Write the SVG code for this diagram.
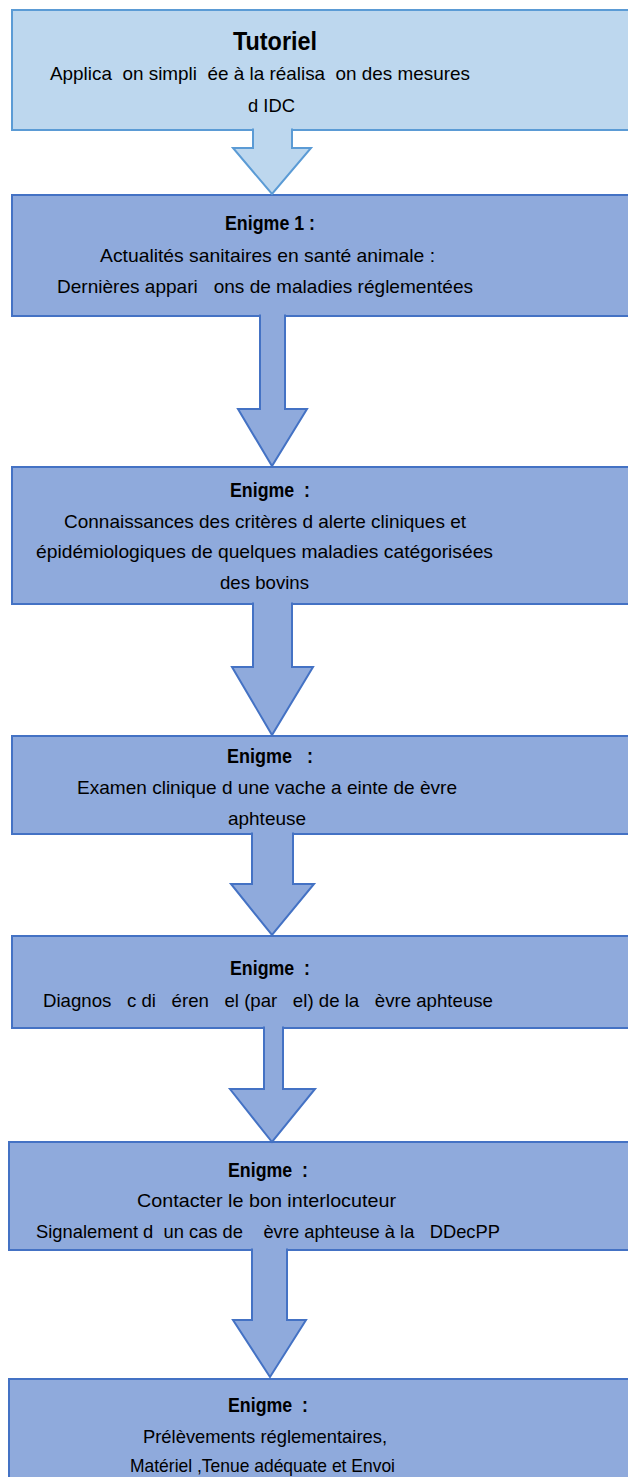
<svg xmlns="http://www.w3.org/2000/svg" width="628" height="1477" viewBox="0 0 628 1477">
<style>
.b1{fill:#BDD7EE;stroke:#5B9BD5;stroke-width:2}
.bx{fill:#8FAADC;stroke:#4472C4;stroke-width:2}
.a1{fill:#BDD7EE;stroke:#5B9BD5;stroke-width:2;stroke-linejoin:miter}
.ax{fill:#8FAADC;stroke:#4472C4;stroke-width:2;stroke-linejoin:miter}
text{font-family:"Liberation Sans",Arial,sans-serif;font-size:19px;fill:#000;white-space:pre}
.t{font-weight:bold;font-size:20px}
</style>
<rect width="628" height="1477" fill="#fff"/>
<g id="node-tutoriel">
<rect class="b1" x="12" y="10" width="630" height="120"/>
<text class="t" x="233" y="50" style="font-size:26px" textLength="84" lengthAdjust="spacingAndGlyphs">Tutoriel</text>
<text x="50" y="80" textLength="420" lengthAdjust="spacingAndGlyphs">Applica  on simpli  ée à la réalisa  on des mesures</text>
<text x="248" y="112" textLength="47" lengthAdjust="spacingAndGlyphs">d IDC</text>
</g>
<g id="node-enigme1">
<rect class="bx" x="12" y="195" width="630" height="121"/>
<text class="t" x="225" y="230" textLength="90" lengthAdjust="spacingAndGlyphs">Enigme 1 :</text>
<text x="100" y="262" textLength="335" lengthAdjust="spacingAndGlyphs">Actualités sanitaires en santé animale :</text>
<text x="57" y="293" textLength="416" lengthAdjust="spacingAndGlyphs">Dernières appari   ons de maladies réglementées</text>
</g>
<g id="node-enigme2">
<rect class="bx" x="12" y="467" width="630" height="137"/>
<text class="t" x="230" y="497" textLength="80" lengthAdjust="spacingAndGlyphs">Enigme  :</text>
<text x="64" y="528" textLength="402" lengthAdjust="spacingAndGlyphs">Connaissances des critères d alerte cliniques et</text>
<text x="36" y="558" textLength="457" lengthAdjust="spacingAndGlyphs">épidémiologiques de quelques maladies catégorisées</text>
<text x="220" y="589" textLength="89" lengthAdjust="spacingAndGlyphs">des bovins</text>
</g>
<g id="node-enigme3">
<rect class="bx" x="12" y="736" width="630" height="98"/>
<text class="t" x="227" y="763" textLength="86" lengthAdjust="spacingAndGlyphs">Enigme   :</text>
<text x="77" y="794" textLength="380" lengthAdjust="spacingAndGlyphs">Examen clinique d une vache a einte de èvre</text>
<text x="228" y="825" textLength="78" lengthAdjust="spacingAndGlyphs">aphteuse</text>
</g>
<g id="node-enigme4">
<rect class="bx" x="12" y="936" width="630" height="92"/>
<text class="t" x="230" y="975" textLength="80" lengthAdjust="spacingAndGlyphs">Enigme  :</text>
<text x="43" y="1007" textLength="450" lengthAdjust="spacingAndGlyphs">Diagnos   c di   éren   el (par   el) de la   èvre aphteuse</text>
</g>
<g id="node-enigme5">
<rect class="bx" x="9" y="1142" width="633" height="108"/>
<text class="t" x="228" y="1177" textLength="80" lengthAdjust="spacingAndGlyphs">Enigme  :</text>
<text x="137" y="1207" textLength="259" lengthAdjust="spacingAndGlyphs">Contacter le bon interlocuteur</text>
<text x="36" y="1238" textLength="464" lengthAdjust="spacingAndGlyphs">Signalement d  un cas de    èvre aphteuse à la   DDecPP</text>
</g>
<g id="node-enigme6">
<rect class="bx" x="9" y="1379" width="633" height="110"/>
<text class="t" x="228" y="1412" textLength="80" lengthAdjust="spacingAndGlyphs">Enigme  :</text>
<text x="143" y="1443" textLength="244" lengthAdjust="spacingAndGlyphs">Prélèvements réglementaires,</text>
<text x="130" y="1472" textLength="265" lengthAdjust="spacingAndGlyphs">Matériel ,Tenue adéquate et Envoi</text>
</g>
<g id="connectors">
<path class="a1" d="M253 128.5 L253 148 L233 148 L272 194 L311 148 L292 148 L292 128.5"/>
<path class="ax" d="M260 314.5 L260 409 L238 409 L272 466 L307 409 L285 409 L285 314.5"/>
<path class="ax" d="M253 602.5 L253 667 L232 667 L272 735 L313 667 L292 667 L292 602.5"/>
<path class="ax" d="M252 832.5 L252 884 L231 884 L272 935 L314 884 L293 884 L293 832.5"/>
<path class="ax" d="M264 1026.5 L264 1089 L230 1089 L272 1142 L315 1089 L283 1089 L283 1026.5"/>
<path class="ax" d="M252 1248.5 L252 1320 L233 1320 L270 1377 L306 1320 L287 1320 L287 1248.5"/>
</g>
</svg>
